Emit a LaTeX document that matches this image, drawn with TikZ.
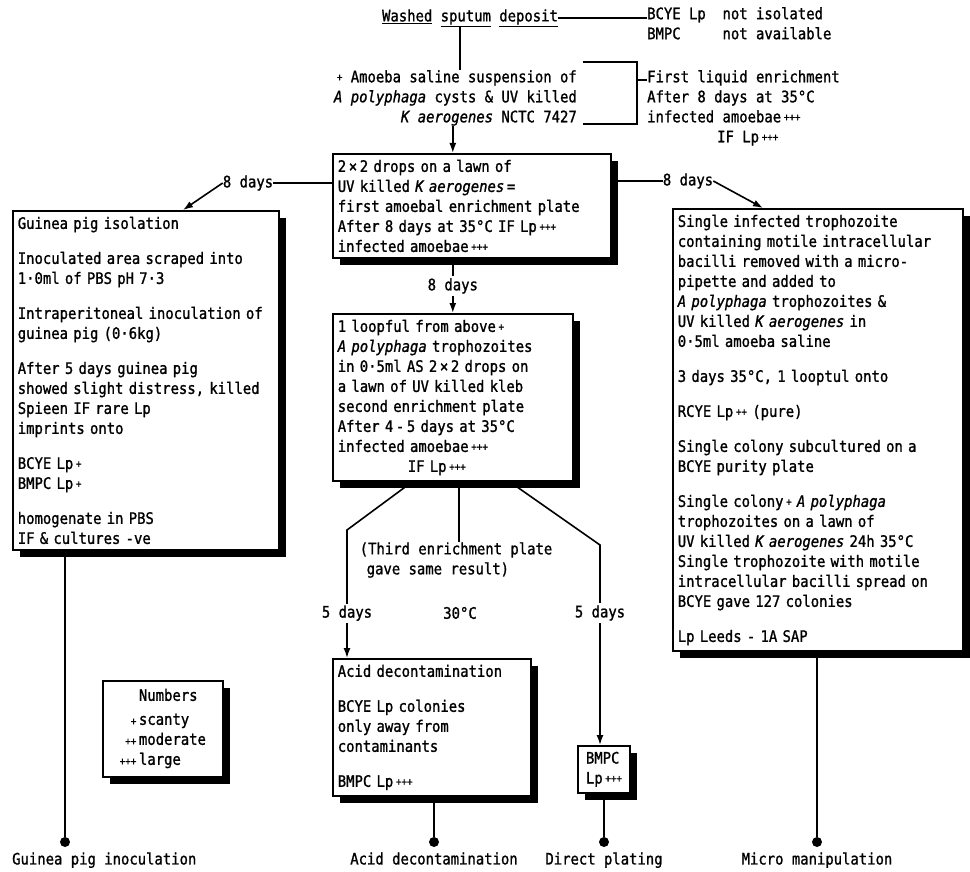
\documentclass[tikz,border=0pt]{standalone}
\usepackage{fontspec}
\setmainfont{DejaVu Sans Mono}[FakeStretch=0.88,FakeBold=1.2]
\usetikzlibrary{arrows.meta,shadows}

\begin{document}
\begin{tikzpicture}[x=1pt,y=-1pt,
    font=\fontsize{15.8}{20}\selectfont,
    lead/.style={line width=1.6pt},
    tip/.style={-{Latex[length=10pt,width=7pt]}},
    note/.style={align=left,inner sep=0pt},
    plate/.style={draw,line width=1.6pt,fill=white,align=left,anchor=north west,
        inner xsep=5pt,inner ysep=6pt,
        drop shadow={fill=black,opacity=1,shadow xshift=7pt,shadow yshift=-7pt}},
    enddot/.style={circle,fill=black,inner sep=0pt,minimum size=10pt}]
    % small plus signs and paragraph gap
    \def\pls#1{\,{\fontsize{10.5}{10}\selectfont\raisebox{1.5pt}{#1}}}
    \def\pgap{\\[15pt]}

    % Frame of the page
    \useasboundingbox (0,0) rectangle (970,872);

    % Start: sputum and the first liquid enrichment
    \node[note] (sputum) at (470,18) {\underline{Washed} \underline{sputum} \underline{deposit}};
    \node[note,anchor=north west] (nores) at (647,5) {\begin{tabular}{@{}l@{\ \ }l@{}}BCYE Lp & not isolated\\ BMPC & not available\end{tabular}};
    \node[note,align=right,anchor=north east] (suspension) at (577,70) {\pls{+} Amoeba saline suspension of\\ \textit{A polyphaga} cysts \& UV killed\\ \textit{K aerogenes} NCTC 7427};
    \node[note,anchor=north west] (liquid) at (647,70) {First liquid enrichment\\ After 8 days at 35°C\\ infected amoebae\pls{+++}\\ \hspace*{70pt}IF Lp\pls{+++}};

    \draw[lead] (sputum.east) -- (sputum.east -| nores.west);
    \draw[lead] ([xshift=-10pt]sputum.south) -- ([xshift=-10pt]sputum.south |- suspension.north);

    % Bracket round the suspension
    \coordinate (brtop) at (583,62);
    \coordinate (brbot) at (583,124);
    \coordinate (brjoin) at (637,80);
    \draw[lead] (brtop) -| (brjoin) |- (brbot);
    \draw[lead] (brjoin) -- (brjoin -| liquid.west);

    % Enrichment plates
    \node[plate,text width=268pt] (enrich1) at (332,153) {2\,×\,2 drops on a lawn of\\ UV killed \textit{K aerogenes}\,=\\ first amoebal enrichment plate\\ After 8 days at 35°C IF Lp\pls{+++}\\ infected amoebae\pls{+++}};
    \node[plate,text width=230pt] (enrich2) at (332,313) {1 loopful from above\pls{+}\\ \textit{A polyphaga} trophozoites\\ in 0·5ml AS 2\,×\,2 drops on\\ a lawn of UV killed kleb\\ second enrichment plate\\ After 4\,-\,5 days at 35°C\\ infected amoebae\pls{+++}\\ \hspace*{70pt}IF Lp\pls{+++}};

    \draw[lead,tip] (suspension.south -| enrich2.north) -- (enrich1.north -| enrich2.north);
    \draw[lead,tip] (enrich1.south -| enrich2.north) -- node[fill=white,inner sep=2pt] {8 days} (enrich2.north);

    % Guinea pig branch
    \node[plate,text width=256pt] (guinea) at (12,210) {Guinea pig isolation\pgap
        Inoculated area scraped into\\ 1·0ml of PBS pH 7·3\pgap
        Intraperitoneal inoculation of\\ guinea pig (0·6kg)\pgap
        After 5 days guinea pig\\ showed slight distress, killed\\ Spieen IF rare Lp\\ imprints onto\pgap
        BCYE Lp\pls{+}\\ BMPC Lp\pls{+}\pgap
        homogenate in PBS\\ IF \& cultures -ve};
    \node[note] (dleft) at (248,183) {8 days};
    \draw[lead] (dleft.east) -- (dleft.east -| enrich1.west);
    \draw[lead,tip] (dleft.west) -- ([xshift=171pt]guinea.north west);

    % Micro manipulation branch
    \node[plate,text width=280pt] (micro) at (672,208) {Single infected trophozoite\\ containing motile intracellular\\ bacilli removed with a micro-\\ pipette and added to\\ \textit{A polyphaga} trophozoites \&\\ UV killed \textit{K aerogenes} in\\ 0·5ml amoeba saline\pgap
        3 days 35°C, 1 looptul onto\pgap
        RCYE Lp\pls{++} (pure)\pgap
        Single colony subcultured on a\\ BCYE purity plate\pgap
        Single colony\pls{+} \textit{A polyphaga}\\ trophozoites on a lawn of\\ UV killed \textit{K aerogenes} 24h 35°C\\ Single trophozoite with motile\\ intracellular bacilli spread on\\ BCYE gave 127 colonies\pgap
        Lp Leeds - 1A SAP};
    \node[note] (dright) at (688,181) {8 days};
    \draw[lead] (enrich1.east |- dright.west) -- (dright.west);
    \draw[lead,tip] (dright.east) -- ([xshift=91pt]micro.north west);

    % Third plate and the two 5 day branches
    \node[note] (third) at (456,560) {(Third enrichment plate\\ \hspace*{7pt}gave same result)};
    \node[note] (temp) at (460,613) {30°C};
    \node[plate,text width=188pt] (acid) at (332,658) {Acid decontamination\pgap BCYE Lp colonies\\ only away from\\ contaminants\pgap BMPC Lp\pls{+++}};
    \node[plate,anchor=north,inner xsep=8pt] (bmpc) at (604,745) {BMPC\\ Lp\pls{+++}};

    \coordinate (bl) at (347,530);
    \coordinate (br) at (600,545);
    \draw[lead] ([xshift=6pt]enrich2.south) -- ([xshift=6pt]enrich2.south |- third.north);
    \draw[lead,tip] ([xshift=80pt]enrich2.south west) -- (bl) -- node[pos=0.65,fill=white,inner sep=2pt] {5 days} (bl |- acid.north);
    \draw[lead,tip] ([xshift=178pt]enrich2.south west) -- (br) -- node[pos=0.34,fill=white,inner sep=2pt] {5 days} (br |- bmpc.north);

    % Key to the numbers
    \node[plate,inner xsep=8pt,minimum width=120pt] (legend) at (102,680) {\begin{tabular}{@{}r@{\,}l@{}} & Numbers\\[4pt] {\fontsize{10.5}{10}\selectfont +} & scanty\\ {\fontsize{10.5}{10}\selectfont ++} & moderate\\ {\fontsize{10.5}{10}\selectfont +++} & large\end{tabular}};

    % End points
    \node[enddot] (dguinea) at (65,842) {};
    \node[enddot] (dacid) at (434,842) {};
    \node[enddot] (dplate) at (604,842) {};
    \node[enddot] (dmicro) at (817,842) {};
    \draw[lead] (guinea.south -| dguinea) -- (dguinea);
    \draw[lead] (acid.south -| dacid) -- (dacid);
    \draw[lead] (bmpc.south) -- (dplate);
    \draw[lead] (micro.south -| dmicro) -- (dmicro);
    \node[note,anchor=north west] (lguinea) at ([yshift=-5pt]dguinea.south -| guinea.west) {Guinea pig inoculation};
    \node[note,anchor=north] (lacid) at ([yshift=-5pt]dacid.south) {Acid decontamination};
    \node[note,anchor=north] (lplate) at ([yshift=-5pt]dplate.south) {Direct plating};
    \node[note,anchor=north] (lmicro) at ([yshift=-5pt]dmicro.south) {Micro manipulation};
\end{tikzpicture}
\end{document}
